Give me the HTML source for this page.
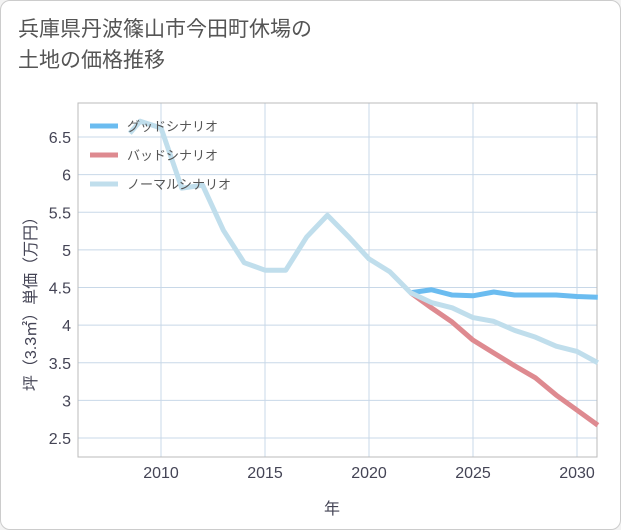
<!DOCTYPE html>
<html><head><meta charset="utf-8">
<style>
body{margin:0;background:#f3f3f3;font-family:"Liberation Sans","Noto Sans CJK JP",sans-serif;}
#card{position:absolute;left:0;top:0;width:619px;height:528px;border:1px solid #ccc;border-radius:10px;background:#fff;}
#title{position:absolute;left:18px;top:14px;font-size:21px;line-height:31px;color:#555;}
</style></head><body>
<div id="card"></div>
<div id="title">兵庫県丹波篠山市今田町休場の<br>土地の価格推移</div>
<svg id="chart" width="621" height="530" style="position:absolute;left:0;top:0"></svg>
<script>
const xTicks=[2010,2015,2020,2025,2030];
const yTicks=[2.5,3,3.5,4,4.5,5,5.5,6,6.5];
const normalYears=[2008.5,2009,2010,2011,2012,2013,2014,2015,2016,2017,2018,2019,2020,2021,2022,2023,2024,2025,2026,2027,2028,2029,2030,2031];
const normalVals=[6.55,6.71,6.62,5.82,5.86,5.26,4.83,4.73,4.73,5.17,5.46,5.18,4.88,4.71,4.43,4.30,4.23,4.10,4.05,3.93,3.84,3.72,3.65,3.50];
const futureYears=[2022,2023,2024,2025,2026,2027,2028,2029,2030,2031];
const goodVals=[4.43,4.47,4.40,4.39,4.44,4.40,4.40,4.40,4.38,4.37];
const badVals=[4.43,4.23,4.04,3.80,3.63,3.46,3.30,3.07,2.87,2.67];
const L=78,R=597,T=103,B=457;
const xs=y=>161+(y-2010)*20.8;
const ys=v=>137+(6.5-v)*75.25;
const svg=document.getElementById('chart');
const NS='http://www.w3.org/2000/svg';
function mk(t,a,p){const e=document.createElementNS(NS,t);for(const k in a)e.setAttribute(k,a[k]);(p||svg).appendChild(e);return e;}
const grid=mk('g',{});


xTicks.forEach(t=>{
 const l=mk('line',{x1:xs(t),x2:xs(t),y1:T,y2:B,stroke:'#c8d8e8','stroke-width':1},grid);
 
 
 const tx=mk('text',{x:xs(t),y:478,'text-anchor':'middle','font-size':16,fill:'#445'});
 tx.textContent=t;
 
 
});
yTicks.forEach(t=>{
 const l=mk('line',{x1:L,x2:R,y1:ys(t),y2:ys(t),stroke:'#c8d8e8','stroke-width':1},grid);
 
 
 const tx=mk('text',{x:71,y:ys(t)+6,'text-anchor':'end','font-size':16,fill:'#445'});
 tx.textContent=t;
 
 
});
const fr=mk('rect',{x:L,y:T,width:R-L,height:B-T,fill:'none',stroke:'#bbb','stroke-width':1});


function line(xsA,vs,col,name){
 const p=mk('polyline',{points:xsA.map((y,i)=>xs(y)+','+ys(vs[i])).join(' '),fill:'none',stroke:col,'stroke-width':5,'stroke-linejoin':'round'});
 
 
}
const cp=mk('clipPath',{id:'c'});mk('rect',{x:L,y:T,width:R-L,height:B-T},cp);
line(futureYears,goodVals,'#6bbcf0','good-scenario-line');
line(futureYears,badVals,'#de8a90','bad-scenario-line');
line(normalYears,normalVals,'#c0deec','normal-scenario-line');
const leg=[['グッドシナリオ','#6bbcf0'],['バッドシナリオ','#de8a90'],['ノーマルシナリオ','#c0deec']];
leg.forEach((d,i)=>{
 const y=126+i*29;
 const r=mk('line',{x1:90,x2:118,y1:y,y2:y,stroke:d[1],'stroke-width':5});
 
 
 const t=mk('text',{x:127,y:y+5,'font-size':13,fill:'#555'});
 t.textContent=d[0];
 
 
});
const xl=mk('text',{x:332,y:514,'text-anchor':'middle','font-size':16,fill:'#445'});
xl.textContent='年';


const yl=mk('text',{x:0,y:0,'text-anchor':'middle','font-size':16,fill:'#445',transform:'translate(36,300) rotate(-90)'});
yl.textContent='坪（3.3㎡）単価（万円）';


</script>
</body></html>
